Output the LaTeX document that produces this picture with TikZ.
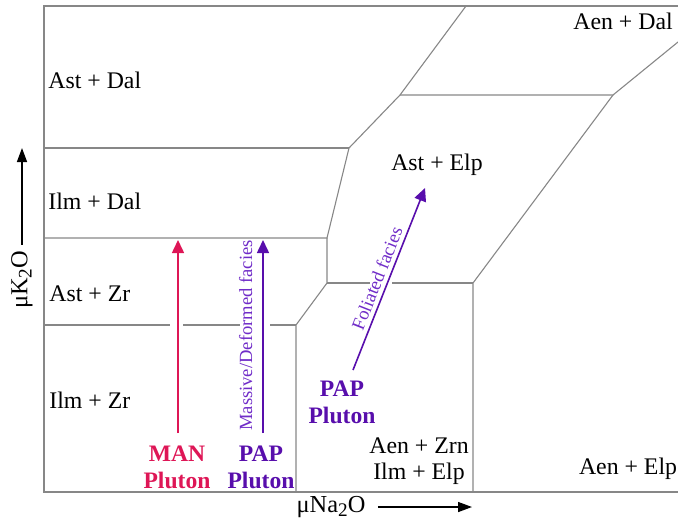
\documentclass[tikz,border=0pt]{standalone}
\usepackage{fontspec}
\setmainfont{Liberation Serif}
\usetikzlibrary{arrows.meta,positioning}
\definecolor{manred}{RGB}{222,22,86}
\definecolor{pappurple}{RGB}{88,14,172}
\definecolor{faciespurple}{RGB}{112,44,200}
\definecolor{gridgray}{RGB}{135,135,135}
\newcommand{\lowtwo}{\raisebox{-0.38ex}{\fontsize{9.6}{9.6}\selectfont 2}}

\begin{document}
\begin{tikzpicture}[x=0.5pt, y=-0.5pt,
    field/.style={font=\fontsize{11.9}{13.4}\selectfont, inner sep=0pt},
    pluton/.style={font=\fontsize{11.8}{13.5}\selectfont\bfseries, align=center, inner sep=1pt},
    facies/.style={font=\fontsize{9.3}{11}\selectfont, text=faciespurple, inner sep=0pt},
    axislabel/.style={font=\fontsize{12.2}{13}\selectfont, inner sep=0pt},
    boundary/.style={gridgray, line width=0.55pt},
    trend/.style={-{Triangle[length=6.5pt,width=6pt]}, line width=0.8pt},
    axisarrow/.style={-{Triangle[length=7pt,width=5pt]}, line width=0.7pt}]
    \useasboundingbox (0,0) rectangle (678,521);

    % corners of the fields
    \coordinate (P1) at (327,238);
    \coordinate (P2) at (349,148);
    \coordinate (P3) at (400,95);
    \coordinate (P4) at (466,6);
    \coordinate (P5) at (613,95);
    \coordinate (P6) at (678,42);
    \coordinate (P7) at (473,283);
    \coordinate (P8) at (473,492);
    \coordinate (P9) at (327,283);
    \coordinate (P10) at (296,325);
    \coordinate (P11) at (296,492);

    \draw[boundary] (678,6) -- (44,6) -- (44,492) -- (678,492);
    \draw[boundary] (44,148) -- (P2);
    \draw[boundary] (44,238) -- (P1) -- (P2) -- (P3) -- (P4);
    \draw[boundary] (P3) -- (P5) -- (P6);
    \draw[boundary] (P5) -- (P7) -- (P8);
    \draw[boundary] (P1) -- (P9) -- (P10) -- (P11);
    \draw[boundary] (P9) -- (370,283) (392,283) -- (P7);
    \draw[boundary] (44,325) -- (170,325) (183,325) -- (240,325) (270,325) -- (P10);

    % field labels
    \node[field, anchor=west] (astdal) at (48,80) {Ast + Dal};
    \node[field, anchor=west] (ilmdal) at (48,201) {Ilm + Dal};
    \node[field, anchor=west] (astzr) at (49,294) {Ast + Zr};
    \node[field, anchor=west] (ilmzr) at (49,400) {Ilm + Zr};
    \node[field] (astelp) at (437,165) {Ast + Elp};
    \node[field] (aendal) at (623,21) {Aen + Dal};
    \node[field, align=center] (aenzrn) at (419,461) {Aen + Zrn\\[-0.5pt]Ilm + Elp};
    \node[field] (aenelp) at (628,469) {Aen + Elp};

    % plutons
    \node[pluton, text=manred] (man) at (177,467) {MAN\\Pluton};
    \node[pluton, text=pappurple] (pap) at (261,467) {PAP\\Pluton};
    \node[pluton, text=pappurple] (folpap) at (342,402) {PAP\\Pluton};

    \coordinate (mantip) at (178,240);
    \coordinate (paptip) at (263,240);
    \coordinate (folbase) at (353,370);
    \coordinate (foltip) at (425,188);

    \draw[trend, manred, shorten <=5pt] (man.north -| mantip) -- (mantip);
    \draw[trend, pappurple, shorten <=5pt] (pap.north -| paptip) -- (paptip)
        node[facies, pos=0.53, sloped, above=5pt] (massive) {Massive/Deformed facies};
    \draw[trend, pappurple] (folbase) -- (foltip)
        node[facies, pos=0.48, sloped, above=2pt] (foliated) {Foliated facies};

    % axes
    \node[axislabel] (xlabel) at (331,507) {μNa\lowtwo O};
    \coordinate (xtip) at (472,507);
    \draw[axisarrow, shorten <=6pt] (xlabel.east) -- (xtip);
    \node[axislabel, rotate=90] (ylabel) at (22,280) {μK\lowtwo O};
    \coordinate (ytip) at (22,148);
    \draw[axisarrow, shorten <=3pt] (ylabel.east) -- (ytip);
\end{tikzpicture}
\end{document}
